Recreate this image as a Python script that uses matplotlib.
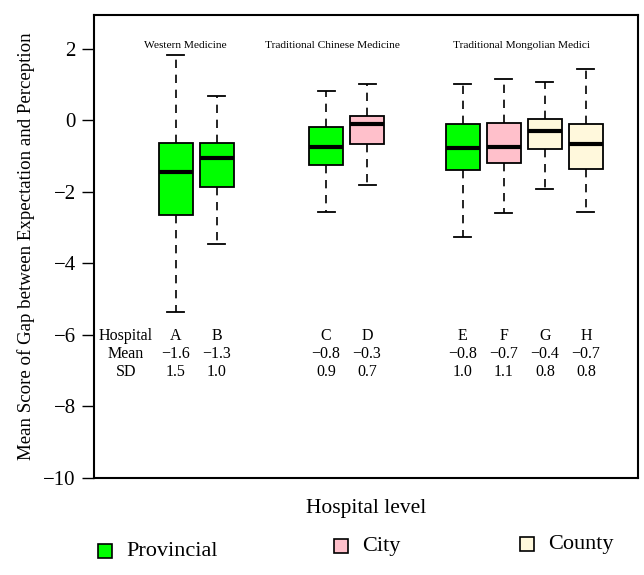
import matplotlib.pyplot as plt
from matplotlib.patches import Rectangle

# hospital boxes
hospitals = ['A', 'B', 'C', 'D', 'E', 'F', 'G', 'H']
levels = ['Provincial', 'Provincial', 'Provincial', 'City', 'Provincial', 'City', 'County', 'County']
whis_hi = [1.83, 0.68, 0.83, 1.03, 1.02, 1.16, 1.08, 1.45]
q3 = [-0.64, -0.64, -0.19, 0.13, -0.10, -0.08, 0.04, -0.11]
med = [-1.45, -1.06, -0.75, -0.10, -0.78, -0.75, -0.29, -0.67]
q1 = [-2.63, -1.86, -1.25, -0.66, -1.38, -1.20, -0.80, -1.36]
whis_lo = [-5.35, -3.46, -2.57, -1.81, -3.25, -2.60, -1.93, -2.57]
means = ['\u22121.6', '\u22121.3', '\u22120.8', '\u22120.3', '\u22120.8', '\u22120.7', '\u22120.4', '\u22120.7']
sds = ['1.5', '1.0', '0.9', '0.7', '1.0', '1.1', '0.8', '0.8']
groups = ['Western Medicine', 'Traditional Chinese Medicine', 'Traditional Mongolian Medici']

positions = [2, 3, 5.66, 6.66, 9, 10, 11, 12]
group_x = [2.22, 5.82, 10.44]
colors = {'Provincial': '#00FF00', 'City': '#FFC0CB', 'County': '#FFF8DC'}

plt.rcParams['font.family'] = ['Liberation Serif', 'DejaVu Serif']

fig = plt.figure(figsize=(6.44, 5.75), dpi=100)
ax = fig.add_axes([94 / 644, 1 - 478 / 575, 544 / 644, 463 / 575])

stats = []
for i in range(len(hospitals)):
    stats.append({'whislo': whis_lo[i], 'q1': q1[i], 'med': med[i], 'q3': q3[i],
                  'whishi': whis_hi[i], 'label': hospitals[i]})

bp = ax.bxp(stats, positions=positions, widths=0.83, patch_artist=True,
            showfliers=False, manage_ticks=False,
            boxprops=dict(edgecolor='black', linewidth=1.3),
            medianprops=dict(color='black', linewidth=3),
            whiskerprops=dict(color='black', linestyle=(0, (5, 4)), linewidth=1.2),
            capprops=dict(color='black', linewidth=1.3))
for patch, lev in zip(bp['boxes'], levels):
    patch.set_facecolor(colors[lev])

ax.set_xlim(0, 13.27)
ax.set_ylim(-10, 2.95)
ax.set_xticks([])
ax.set_yticks([2, 0, -2, -4, -6, -8, -10])
ax.set_yticklabels(['2', '0', '\u22122', '\u22124', '\u22126', '\u22128', '\u221210'], fontsize=15)
ax.tick_params(axis='y', length=9, width=1, pad=4)
for s in ax.spines.values():
    s.set_linewidth(1.5)

# group titles
for gx, g in zip(group_x, groups):
    ax.text(gx, 2.09, g, ha='center', va='center', fontsize=8.2)

# table of hospital / mean / SD
ax.text(0.78, -6.04, 'Hospital', ha='center', va='center', fontsize=11.5)
ax.text(0.78, -6.54, 'Mean', ha='center', va='center', fontsize=11.5)
ax.text(0.78, -7.04, 'SD', ha='center', va='center', fontsize=11.5)
for p, h, m, s in zip(positions, hospitals, means, sds):
    ax.text(p, -6.04, h, ha='center', va='center', fontsize=11.5)
    ax.text(p, -6.54, m, ha='center', va='center', fontsize=11.5)
    ax.text(p, -7.04, s, ha='center', va='center', fontsize=11.5)

ax.set_ylabel('Mean Score of Gap between Expectation and Perception', fontsize=13.6, labelpad=6)
fig.text(366 / 644, 1 - 509 / 575, 'Hospital level', ha='center', va='center', fontsize=15.5)

# legend drawn by hand to keep the uneven spacing
leg = [('Provincial', 105, 551), ('City', 341, 546), ('County', 527, 544)]
for name, lx, ly in leg:
    fig.add_artist(Rectangle((lx / 644 - 7 / 644, 1 - ly / 575 - 7 / 575), 14 / 644, 14 / 575,
                             transform=fig.transFigure, facecolor=colors[name],
                             edgecolor='black', linewidth=1.2))
    fig.text(lx / 644 + 21 / 644, 1 - ly / 575, name, ha='left', va='center', fontsize=16)

fig.savefig('out.png', dpi=100)
